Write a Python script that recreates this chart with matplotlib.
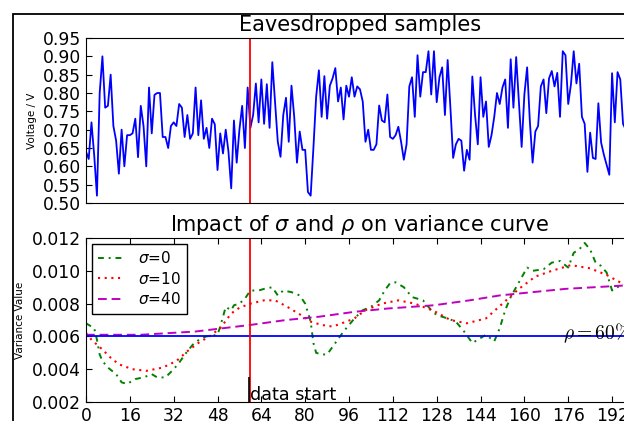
import numpy as np
import matplotlib
matplotlib.use('Agg')
from matplotlib import pyplot as plt
from matplotlib.patches import Rectangle
from matplotlib.ticker import FormatStrFormatter, MultipleLocator

# eavesdropped voltage samples (V), one per sample index
samples = [0.64, 0.62, 0.72, 0.63, 0.52, 0.80, 0.90, 0.76, 0.765, 0.85,
           0.71, 0.67, 0.58, 0.70, 0.60, 0.685, 0.685, 0.69, 0.73, 0.625,
           0.765, 0.71, 0.60, 0.815, 0.69, 0.795, 0.80, 0.80, 0.68, 0.68,
           0.65, 0.71, 0.72, 0.71, 0.77, 0.76, 0.68, 0.74, 0.675, 0.69,
           0.815, 0.685, 0.78, 0.675, 0.705, 0.65, 0.73, 0.715, 0.59, 0.69,
           0.635, 0.70, 0.64, 0.54, 0.725, 0.61, 0.70, 0.765, 0.65, 0.815,
           0.705, 0.74, 0.826, 0.72, 0.837, 0.716, 0.824, 0.705, 0.884, 0.777,
           0.667, 0.626, 0.74, 0.787, 0.667, 0.82, 0.735, 0.61, 0.695, 0.645,
           0.645, 0.53, 0.52, 0.65, 0.79, 0.862, 0.735, 0.846, 0.73, 0.82,
           0.84, 0.868, 0.777, 0.815, 0.728, 0.82, 0.79, 0.843, 0.79, 0.818,
           0.81, 0.777, 0.667, 0.70, 0.645, 0.645, 0.66, 0.766, 0.725, 0.72,
           0.796, 0.68, 0.675, 0.685, 0.708, 0.667, 0.618, 0.66, 0.818, 0.843,
           0.735, 0.903, 0.79, 0.857, 0.857, 0.914, 0.796, 0.914, 0.775, 0.843,
           0.87, 0.74, 0.89, 0.76, 0.623, 0.66, 0.675, 0.67, 0.588, 0.645,
           0.618, 0.845, 0.74, 0.66, 0.843, 0.735, 0.777, 0.653, 0.685, 0.735,
           0.80, 0.77, 0.815, 0.837, 0.705, 0.892, 0.76, 0.898, 0.777, 0.653,
           0.796, 0.87, 0.722, 0.61, 0.695, 0.71, 0.818, 0.837, 0.745, 0.84,
           0.86, 0.818, 0.855, 0.735, 0.914, 0.903, 0.77, 0.824, 0.914, 0.826,
           0.88, 0.735, 0.716, 0.585, 0.692, 0.623, 0.62, 0.772, 0.665, 0.632,
           0.604, 0.577, 0.854, 0.72, 0.857, 0.837, 0.716, 0.70]

# variance curves for the different sigma values
var0_x = [0, 3, 4, 5, 6, 8, 11, 13, 15, 18, 21, 24, 26, 29, 32, 34, 37, 39,
          42, 44, 48, 49, 51, 53, 54, 56, 58, 60, 63, 65, 68, 70, 72, 75, 78,
          80, 82, 83, 84, 86, 88, 91, 94, 97, 98, 101, 104, 107, 109, 111,
          113, 116, 119, 123, 126, 128, 132, 135, 138, 141, 146, 149, 151,
          153, 155, 158, 161, 163, 167, 170, 173, 176, 178, 180, 182, 184,
          186, 188, 190, 192, 194, 196]
var0_y = [0.0068, 0.0065, 0.0058, 0.0049, 0.0045, 0.0041, 0.0037, 0.0032,
          0.0031, 0.0034, 0.0035, 0.0037, 0.0035, 0.0035, 0.0040, 0.0044,
          0.0051, 0.0055, 0.0059, 0.0060, 0.0061, 0.0066, 0.0078, 0.0076,
          0.0079, 0.0080, 0.0083, 0.0088, 0.0088, 0.0089, 0.0090, 0.0085,
          0.0088, 0.0087, 0.0085, 0.0080, 0.0069, 0.0056, 0.0050, 0.0049,
          0.0049, 0.0056, 0.0063, 0.0069, 0.0071, 0.0076, 0.0078, 0.0082,
          0.0088, 0.00925, 0.0093, 0.0090, 0.0084, 0.0082, 0.0076, 0.0073,
          0.0071, 0.0069, 0.0063, 0.0056, 0.0061, 0.0057, 0.0065, 0.0076,
          0.0084, 0.0093, 0.0102, 0.0100, 0.0101, 0.0105, 0.0106, 0.0102,
          0.0111, 0.0113, 0.0117, 0.0113, 0.0105, 0.0103, 0.0099, 0.0088,
          0.0090, 0.0092]

var10_x = [0, 2, 6, 9, 12, 17, 22, 28, 33, 37, 41, 45, 49, 53, 56, 60, 65,
           69, 73, 78, 82, 86, 90, 95, 98, 102, 108, 114, 120, 127, 133, 139,
           146, 152, 158, 164, 170, 177, 184, 190, 196]
var10_y = [0.0062, 0.0058, 0.0052, 0.0047, 0.0043, 0.0040, 0.0039, 0.0041,
           0.0045, 0.0051, 0.0056, 0.0060, 0.0065, 0.0074, 0.00775, 0.0080,
           0.0082, 0.0082, 0.00785, 0.00735, 0.0069, 0.0067, 0.0066, 0.0069,
           0.0071, 0.0076, 0.0080, 0.0082, 0.0080, 0.00755, 0.0070, 0.0068,
           0.0071, 0.0080, 0.0089, 0.00965, 0.0100, 0.01035, 0.01015, 0.00975,
           0.0092]

var40_x = [0, 10, 20, 30, 40, 50, 60, 73, 85, 98, 110, 127, 140, 151, 163,
           175, 196]
var40_y = [0.0061, 0.0061, 0.0061, 0.0062, 0.0063, 0.0065, 0.0067, 0.0070,
           0.0072, 0.0075, 0.0077, 0.0079, 0.0082, 0.0085, 0.0087, 0.0089,
           0.0091]

rho_level = 0.00605
data_start = 60
xticks = list(range(0, 209, 16))

fig = plt.figure(figsize=(6.24, 4.21), dpi=100)
fs = 12.3

# top: raw samples
ax1 = fig.add_axes([0.1378, 0.5178, 0.8782, 0.3919])
ax1.plot(np.arange(len(samples)), samples, color='b', lw=1.3)
ax1.axvline(data_start, color='r', lw=1.3)
ax1.set_xticks([])
ax1.set_xlim(0, 200)
ax1.set_ylim(0.5, 0.95)
ax1.yaxis.set_major_locator(MultipleLocator(0.05))
ax1.yaxis.set_major_formatter(FormatStrFormatter('%.2f'))
ax1.tick_params(axis='y', direction='in', length=4, labelsize=fs, right=True)
ax1.set_ylabel('Voltage / V', fontsize=7.5, labelpad=4)
ax1.set_title('Eavesdropped samples', fontsize=15, pad=5)

# bottom: variance curves
ax2 = fig.add_axes([0.1378, 0.0451, 0.8782, 0.3895])
ax2.plot(var0_x, var0_y, color='g', lw=1.4, dashes=(3, 2.5, 1, 2.5),
         label=r'$\sigma$=0')
ax2.plot(var10_x, var10_y, color='r', lw=1.5, dashes=(1, 2.2),
         label=r'$\sigma$=10')
ax2.plot(var40_x, var40_y, color='m', lw=1.4, dashes=(4.5, 2.5),
         label=r'$\sigma$=40')
ax2.axhline(rho_level, color='b', lw=1.3)
ax2.axvline(data_start, color='r', lw=1.3)
ax2.vlines(data_start - 0.5, 0.002, 0.0035, color='k', lw=1.2)
ax2.text(data_start, 0.00215, 'data start', fontsize=12.7)
ax2.text(174, 0.00585, r'$\rho=60\%$', fontsize=14, math_fontfamily='cm')
ax2.set_xticks(xticks)
ax2.set_xlim(0, 200)
ax2.set_ylim(0.002, 0.012)
ax2.yaxis.set_major_locator(MultipleLocator(0.002))
ax2.yaxis.set_major_formatter(FormatStrFormatter('%.3f'))
ax2.tick_params(direction='in', length=4, labelsize=fs, top=True, right=True)
ax2.set_ylabel('Variance Value', fontsize=7.5, labelpad=5)
ax2.set_title(r'Impact of $\sigma$ and $\rho$ on variance curve',
              fontsize=15, pad=5)
leg = ax2.legend(loc='upper left', fontsize=11, handlelength=1.6,
                 handletextpad=1.0, labelspacing=0.3, borderaxespad=0.4,
                 fancybox=False, framealpha=1)
leg.get_frame().set_edgecolor('k')

# outer frame around the figure
fig.add_artist(Rectangle((13 / 624, -0.1), 1.2, 1.1 - 14 / 421,
                         transform=fig.transFigure, fill=False,
                         ec='k', lw=1.3))

fig.savefig('out.png', dpi=100)
